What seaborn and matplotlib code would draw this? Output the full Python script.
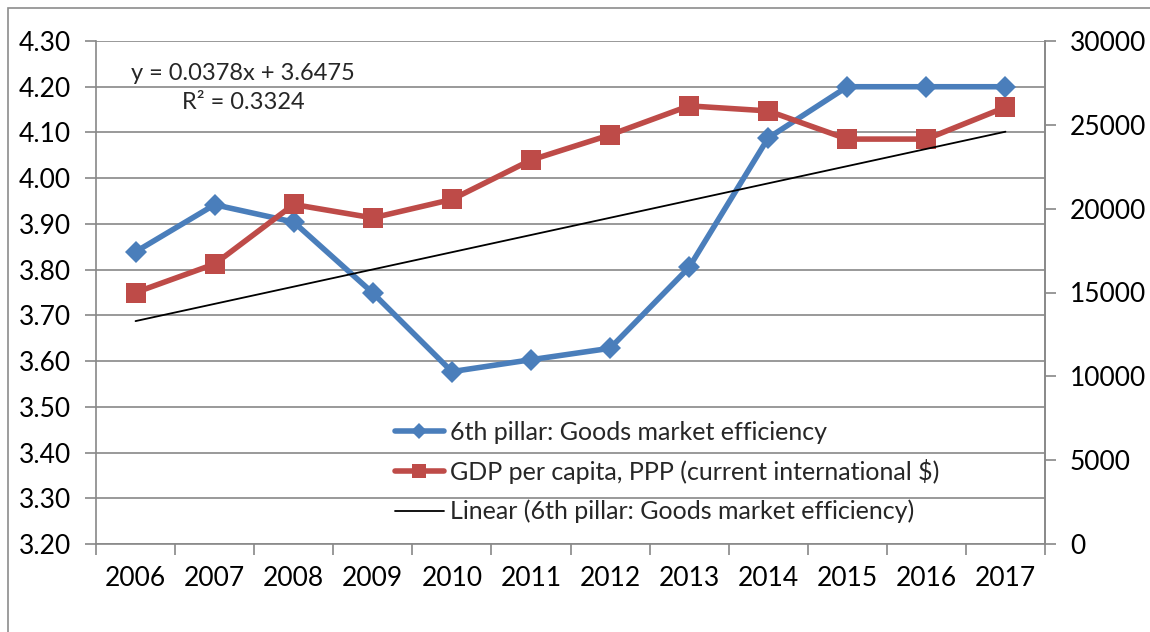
import numpy as np
import pandas as pd
import matplotlib
matplotlib.use('Agg')
import matplotlib.pyplot as plt
import seaborn as sns
from matplotlib.patches import Rectangle
from matplotlib.ticker import FormatStrFormatter, MultipleLocator, FixedLocator

# data
years = [2006, 2007, 2008, 2009, 2010, 2011, 2012, 2013, 2014, 2015, 2016, 2017]
pillar = [3.839, 3.942, 3.904, 3.749, 3.577, 3.603, 3.628, 3.805, 4.088, 4.20, 4.20, 4.20]
gdp = [15000, 16700, 20250, 19450, 20550, 22900, 24400, 26130, 25830, 24150, 24150, 26050]

pillar_label = '6th pillar: Goods market efficiency'
gdp_label = 'GDP per capita, PPP (current international $)'
trend_label = 'Linear (6th pillar: Goods market efficiency)'
eq_text = 'y = 0.0378x + 3.6475'
r2_text = 'R² = 0.3324'

df = pd.DataFrame({'year': years, 'pillar': pillar, 'gdp': gdp})

sns.set_theme(style='white')
plt.rcParams['font.family'] = ['Lato', 'DejaVu Sans']
FS = 19
plt.rcParams['font.size'] = FS

blue = '#4A7EBB'
red = '#BE4B48'
grey = '#888888'

fig = plt.figure(figsize=(11.5, 6.32), dpi=100)
ax = fig.add_axes([96 / 1150, 1 - 544 / 632, (1045 - 96) / 1150, (544 - 41) / 632])

# blue series (left axis)
sns.lineplot(data=df, x='year', y='pillar', ax=ax, color=blue, lw=4.0,
             marker='D', markersize=11, markeredgewidth=0, label=pillar_label)
ax.set_ylim(3.2, 4.3)
ax.set_xlim(2005.5, 2017.5)
ax.yaxis.set_major_locator(MultipleLocator(0.1))
ax.yaxis.set_major_formatter(FormatStrFormatter('%.2f'))
ax.grid(axis='y', color=grey, lw=1.2)
ax.set_axisbelow(True)

# red series (right axis)
ax2 = ax.twinx()
sns.lineplot(data=df, x='year', y='gdp', ax=ax2, color=red, lw=4.0,
             marker='s', markersize=14, markeredgewidth=0, label=gdp_label)
ax2.set_ylim(0, 30000)
ax2.yaxis.set_major_locator(MultipleLocator(5000))

# linear trend of the blue series, drawn on top
ax3 = ax.twinx()
sns.regplot(data=df, x='year', y='pillar', ax=ax3, scatter=False, ci=None, truncate=True,
            label=trend_label, line_kws=dict(color='black', lw=1.3))
ax3.set_ylim(ax.get_ylim())
ax3.set_xlim(ax.get_xlim())
ax3.axis('off')

for a in (ax, ax2, ax3):
    a.set_xlabel('')
    a.set_ylabel('')
    leg = a.get_legend()
    if leg is not None:
        leg.remove()

# x ticks: labels at the centres, marks at the boundaries
ax.set_xticks(years)
ax.set_xticklabels([str(y) for y in years])
ax.xaxis.set_minor_locator(FixedLocator([y - 0.5 for y in years] + [years[-1] + 0.5]))
ax.tick_params(axis='x', which='major', length=0, pad=16, labelsize=FS, colors='black')
ax.tick_params(axis='x', which='minor', bottom=True, length=8, width=1.2, color=grey)
ax.tick_params(axis='y', left=True, length=8, width=1.2, color=grey, pad=10, labelsize=FS,
               labelcolor='black')
ax2.tick_params(axis='y', right=True, length=8, width=1.2, color=grey, pad=10, labelsize=FS,
                labelcolor='black')

for a in (ax, ax2):
    for s in a.spines.values():
        s.set_color(grey)
        s.set_linewidth(1.2)
    a.spines['top'].set_visible(False)
ax2.spines['left'].set_visible(False)
ax2.spines['bottom'].set_visible(False)

# trendline equation
ax3.text(0.155, 0.935, eq_text, transform=ax.transAxes, ha='center', va='center', fontsize=17)
ax3.text(0.155, 0.878, r2_text, transform=ax.transAxes, ha='center', va='center', fontsize=17)

# legend
h1, l1 = ax.get_legend_handles_labels()
h2, l2 = ax2.get_legend_handles_labels()
h3, l3 = ax3.get_legend_handles_labels()
ax3.legend(h1 + h2 + h3, l1 + l2 + l3, loc='center left',
           bbox_to_anchor=(395 / 1150, 1 - 472 / 632), bbox_transform=fig.transFigure,
           frameon=False, borderpad=0, borderaxespad=0, handlelength=1.95,
           handletextpad=0.25, labelspacing=0.62, markerscale=0.75, fontsize=18)

# chart border
fig.patches.append(Rectangle((8 / 1150, -0.1), 1.2, 1 - 8 / 632 + 0.1, transform=fig.transFigure,
                             fill=False, edgecolor='#8c8c8c', lw=1.2))

fig.savefig('out.png', dpi=100)
